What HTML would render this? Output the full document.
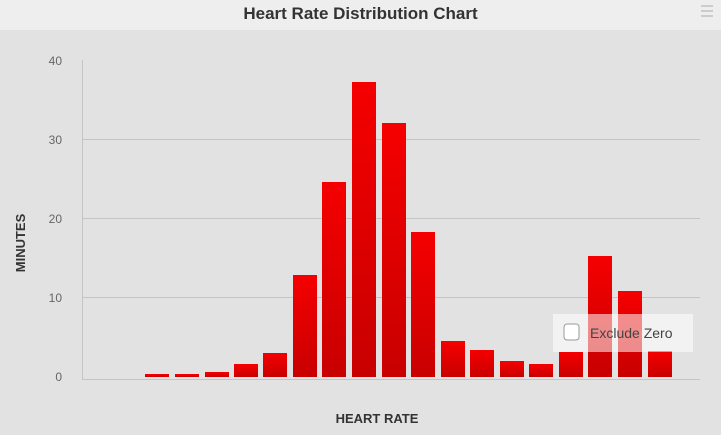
<!DOCTYPE html>
<html><head><style>
body{margin:0;width:721px;height:435px;overflow:hidden;background:#e3e2e3;font-family:"Liberation Sans",Arial,sans-serif;position:relative}
.title{position:absolute;left:0;top:0;width:721px;height:30px;background:#efeeef;text-align:center;font-weight:bold;font-size:17px;line-height:28px;color:#333}
.menu{position:absolute;right:8px;top:5px;width:12px}
.menu div{height:2px;background:#ccc;margin-bottom:3px}
</style></head><body>
<div class="title">Heart Rate Distribution Chart</div>
<div class="menu"><div></div><div></div><div></div></div>
<svg width="721" height="435" style="position:absolute;left:0;top:0">
<defs><linearGradient id="g" x1="0" y1="0" x2="0" y2="1"><stop offset="0" stop-color="#f50000"/><stop offset="1" stop-color="#c80000"/></linearGradient></defs>
<g stroke="#c4c4c4" stroke-width="1">
<line x1="82" y1="139.5" x2="700" y2="139.5"/><line x1="82" y1="218.5" x2="700" y2="218.5"/><line x1="82" y1="297.5" x2="700" y2="297.5"/>
<line x1="82.5" y1="60" x2="82.5" y2="379"/><line x1="82" y1="379.5" x2="700" y2="379.5"/>
</g>
<g font-size="12" fill="#666" text-anchor="end">
<text x="62" y="65">40</text><text x="62" y="144">30</text><text x="62" y="223">20</text><text x="62" y="302">10</text><text x="62" y="381">0</text>
</g>
<text x="25" y="243" font-size="13" font-weight="bold" fill="#333" transform="rotate(-90 25 243)" text-anchor="middle">MINUTES</text>
<text x="377" y="423" font-size="13" font-weight="bold" fill="#333" text-anchor="middle">HEART RATE</text>
<g fill="url(#g)">
<rect x="145" y="374" width="24" height="3"/>
<rect x="175" y="374" width="24" height="3"/>
<rect x="205" y="372" width="24" height="5"/>
<rect x="234" y="364" width="24" height="13"/>
<rect x="263" y="353" width="24" height="24"/>
<rect x="293" y="275" width="24" height="102"/>
<rect x="322" y="182" width="24" height="195"/>
<rect x="352" y="82" width="24" height="295"/>
<rect x="382" y="123" width="24" height="254"/>
<rect x="411" y="232" width="24" height="145"/>
<rect x="441" y="341" width="24" height="36"/>
<rect x="470" y="350" width="24" height="27"/>
<rect x="500" y="361" width="24" height="16"/>
<rect x="529" y="364" width="24" height="13"/>
<rect x="559" y="352" width="24" height="25"/>
<rect x="588" y="256" width="24" height="121"/>
<rect x="618" y="291" width="24" height="86"/>
<rect x="648" y="351" width="24" height="26"/>
</g>
<rect x="553" y="314" width="140" height="38" fill="#fff" fill-opacity="0.55"/>
<rect x="564" y="324" width="15" height="16" rx="3" fill="#fff" stroke="#999"/>
<text x="590" y="338" font-size="14" fill="#444">Exclude Zero</text>
</svg>
</body></html>
